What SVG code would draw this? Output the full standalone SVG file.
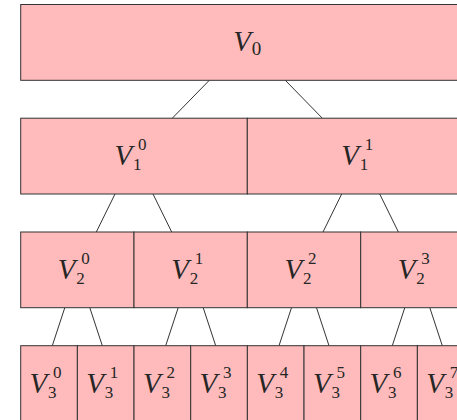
<svg xmlns="http://www.w3.org/2000/svg" width="457" height="420" viewBox="0 0 457 420">
<style>
.box{fill:#FFBBBB;stroke:#333;stroke-width:1}
.v{font-family:"Liberation Serif",serif;font-style:italic;font-size:29px;fill:#262626}
.s{font-family:"Liberation Serif",serif;font-size:17px;fill:#262626}
.z{font-family:"Liberation Serif",serif;font-size:19px;fill:#262626}
.e{stroke:#333;stroke-width:1;fill:none}
</style>
<rect width="457" height="420" fill="#fff"/>
<g id="connectors">
<path class="e" d="M209.3 80.3L172.3 118.2M285.3 80.3L322.3 118.2"/>
<path class="e" d="M115 194L96.3 232M153 194L171.7 232M341.7 194L323 232M379.7 194L398.4 232"/>
<path class="e" d="M64.8 307.7L52.3 345.7M89.8 307.7L102.3 345.7M178.2 307.7L165.7 345.7M203.2 307.7L215.7 345.7M291.5 307.7L279 345.7M316.5 307.7L329 345.7M404.8 307.7L392.3 345.7M429.8 307.7L442.3 345.7"/>
</g>
<g id="V0"><rect class="box" x="20.7" y="4.5" width="453.3" height="75.8"/><text class="v" x="233.3" y="51.4">V</text><text class="z" x="251.8" y="55">0</text></g>
<g id="V1_0"><rect class="box" x="20.7" y="118.2" width="226.6" height="75.8"/><text class="v" x="114.5" y="165.1">V</text><text class="s" x="133" y="170.1">1</text><text class="s" x="138" y="150.1">0</text></g>
<g id="V1_1"><rect class="box" x="247.3" y="118.2" width="226.7" height="75.8"/><text class="v" x="341.2" y="165.1">V</text><text class="s" x="359.7" y="170.1">1</text><text class="s" x="364.7" y="150.1">1</text></g>
<g id="V2_0"><rect class="box" x="20.7" y="232" width="113.3" height="75.7"/><text class="v" x="57.8" y="278.9">V</text><text class="s" x="76.3" y="283.9">2</text><text class="s" x="81.3" y="263.9">0</text></g>
<g id="V2_1"><rect class="box" x="134" y="232" width="113.3" height="75.7"/><text class="v" x="171.2" y="278.9">V</text><text class="s" x="189.7" y="283.9">2</text><text class="s" x="194.7" y="263.9">1</text></g>
<g id="V2_2"><rect class="box" x="247.3" y="232" width="113.4" height="75.7"/><text class="v" x="284.5" y="278.9">V</text><text class="s" x="303" y="283.9">2</text><text class="s" x="308" y="263.9">2</text></g>
<g id="V2_3"><rect class="box" x="360.7" y="232" width="113.3" height="75.7"/><text class="v" x="397.8" y="278.9">V</text><text class="s" x="416.3" y="283.9">2</text><text class="s" x="421.3" y="263.9">3</text></g>
<g id="V3_0"><rect class="box" x="20.7" y="345.7" width="56.67" height="76"/><text class="v" x="29.5" y="392.5">V</text><text class="s" x="48" y="397.5">3</text><text class="s" x="53" y="377.5">0</text></g>
<g id="V3_1"><rect class="box" x="77.37" y="345.7" width="56.67" height="76"/><text class="v" x="86.2" y="392.5">V</text><text class="s" x="104.7" y="397.5">3</text><text class="s" x="109.7" y="377.5">1</text></g>
<g id="V3_2"><rect class="box" x="134.03" y="345.7" width="56.67" height="76"/><text class="v" x="142.9" y="392.5">V</text><text class="s" x="161.4" y="397.5">3</text><text class="s" x="166.4" y="377.5">2</text></g>
<g id="V3_3"><rect class="box" x="190.7" y="345.7" width="56.67" height="76"/><text class="v" x="199.5" y="392.5">V</text><text class="s" x="218" y="397.5">3</text><text class="s" x="223" y="377.5">3</text></g>
<g id="V3_4"><rect class="box" x="247.37" y="345.7" width="56.67" height="76"/><text class="v" x="256.2" y="392.5">V</text><text class="s" x="274.7" y="397.5">3</text><text class="s" x="279.7" y="377.5">4</text></g>
<g id="V3_5"><rect class="box" x="304.03" y="345.7" width="56.67" height="76"/><text class="v" x="312.9" y="392.5">V</text><text class="s" x="331.4" y="397.5">3</text><text class="s" x="336.4" y="377.5">5</text></g>
<g id="V3_6"><rect class="box" x="360.7" y="345.7" width="56.67" height="76"/><text class="v" x="369.5" y="392.5">V</text><text class="s" x="388" y="397.5">3</text><text class="s" x="393" y="377.5">6</text></g>
<g id="V3_7"><rect class="box" x="417.37" y="345.7" width="56.67" height="76"/><text class="v" x="426.2" y="392.5">V</text><text class="s" x="444.7" y="397.5">3</text><text class="s" x="449.7" y="377.5">7</text></g>
</svg>
